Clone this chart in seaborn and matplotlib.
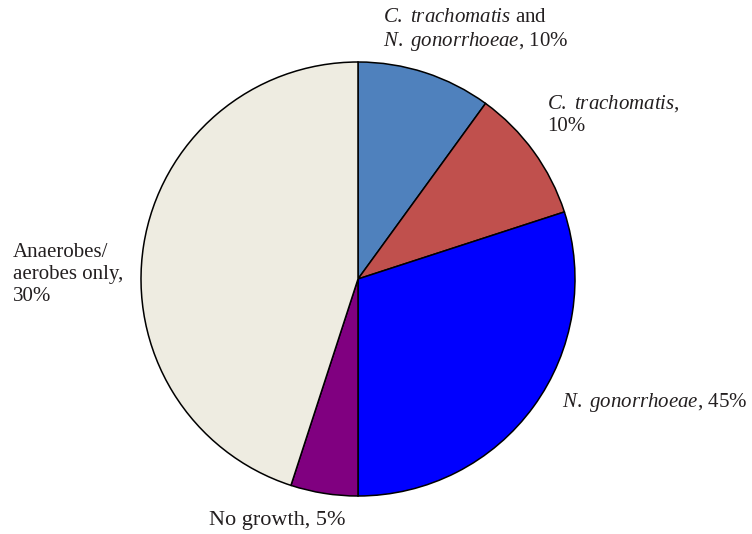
import matplotlib
matplotlib.use("Agg")
import matplotlib.pyplot as plt
import seaborn as sns

# slice data (clockwise from 12 o'clock), as drawn
categories = ["C. trachomatis and N. gonorrhoeae", "C. trachomatis",
              "N. gonorrhoeae", "No growth", "Anaerobes/aerobes only"]
values = [10, 10, 30, 5, 45]
colors = ["#4F81BD", "#C0504D", "#0000FF", "#800080", "#EEECE1"]

# label texts as printed in the figure
label_texts = [
    r"$\mathit{C.\ trachomatis}$ and" + "\n" + r"$\mathit{N.\ gonorrhoeae}$, 10%",
    r"$\mathit{C.\ trachomatis}$," + "\n" + "10%",
    r"$\mathit{N.\ gonorrhoeae}$, 45%",
    "No growth, 5%",
    "Anaerobes/\naerobes only,\n30%",
]

sns.set_theme(style="white")
plt.rcParams["font.family"] = ["Liberation Serif", "DejaVu Serif"]
plt.rcParams["mathtext.fontset"] = "custom"
plt.rcParams["mathtext.rm"] = "Liberation Serif"
plt.rcParams["mathtext.it"] = "Liberation Serif:italic"

fig = plt.figure(figsize=(7.52, 5.34), dpi=100)
ax = fig.add_axes([0, 0, 1, 1])

W, H = 752, 534
ax.pie(values, colors=colors, startangle=90, counterclock=False,
       center=(358, H - 279), radius=217,
       wedgeprops=dict(edgecolor="black", linewidth=1.1))
ax.set_xlim(0, W)
ax.set_ylim(0, H)
ax.set_aspect("equal")
ax.axis("off")

txt = dict(fontsize=15, color="#231f20", linespacing=1.2)
ax.text(383, H - 8, label_texts[0], ha="left", va="top", **txt)
ax.text(547, H - 93, label_texts[1], ha="left", va="top", **txt)
ax.text(562, H - 403, label_texts[2], ha="left", va="center", **txt)
ax.text(277, H - 520, label_texts[3], ha="center", va="center",
        fontsize=16, color="#231f20")
ax.text(13, H - 243, label_texts[4], ha="left", va="top", **txt)

fig.savefig("out.png", dpi=100, facecolor="white")
